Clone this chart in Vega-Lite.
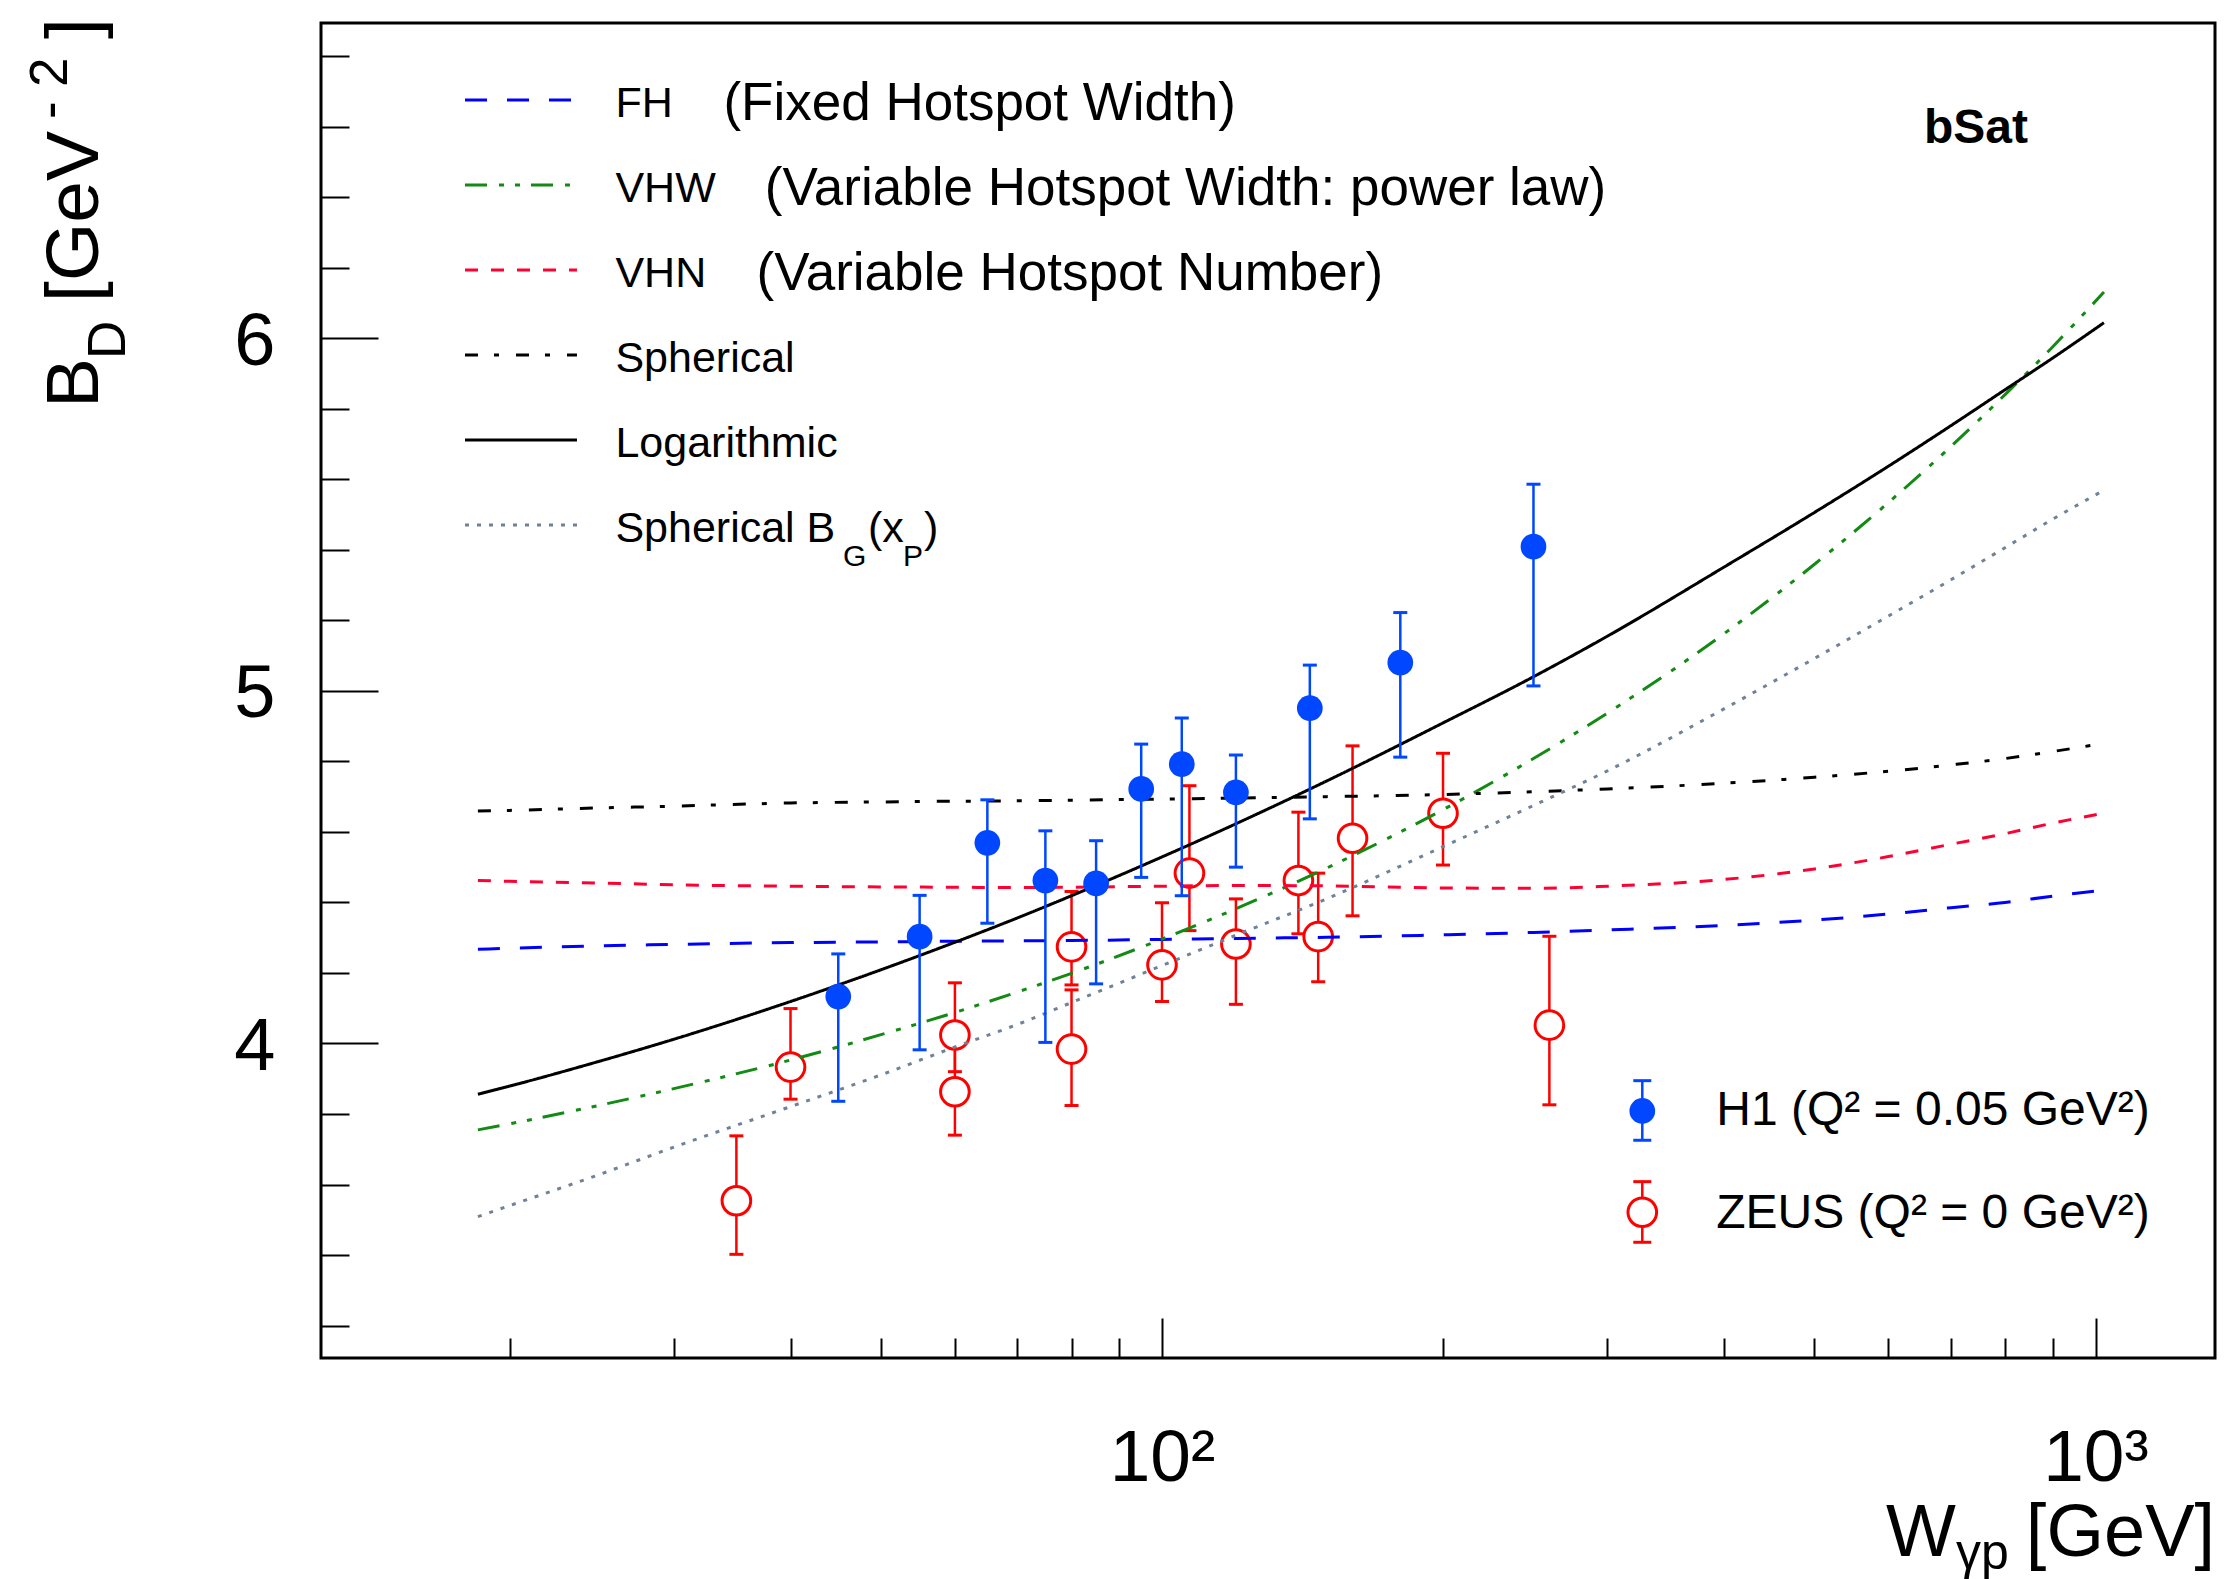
{
"$schema":"https://vega.github.io/schema/vega-lite/v6.json",
"width":1894,"height":1335,
"autosize":{"type":"none"},
"padding":{"left":321,"top":23,"right":14,"bottom":221},
"background":"white",
"config":{"view":{"stroke":"black","strokeWidth":3},"font":"Liberation Sans","text":{"font":"Liberation Sans"}},
"datasets":{
"h1":[
{"W":45,"B":4.133,"lo":3.836,"hi":4.254},
{"W":55,"B":4.303,"lo":3.982,"hi":4.420},
{"W":65,"B":4.569,"lo":4.341,"hi":4.691},
{"W":75,"B":4.462,"lo":4.003,"hi":4.603},
{"W":85,"B":4.454,"lo":4.169,"hi":4.575},
{"W":95,"B":4.722,"lo":4.471,"hi":4.849},
{"W":105,"B":4.792,"lo":4.419,"hi":4.923},
{"W":120,"B":4.712,"lo":4.500,"hi":4.818},
{"W":144,"B":4.951,"lo":4.637,"hi":5.073},
{"W":180,"B":5.080,"lo":4.812,"hi":5.222},
{"W":250,"B":5.409,"lo":5.014,"hi":5.586}],
"zeus":[
{"W":35,"B":3.554,"lo":3.402,"hi":3.738},
{"W":40,"B":3.933,"lo":3.842,"hi":4.099},
{"W":60,"B":4.024,"lo":3.920,"hi":4.172},
{"W":60,"B":3.863,"lo":3.740,"hi":4.060},
{"W":80,"B":4.274,"lo":4.166,"hi":4.431},
{"W":80,"B":3.984,"lo":3.824,"hi":4.152},
{"W":100,"B":4.223,"lo":4.119,"hi":4.399},
{"W":107,"B":4.483,"lo":4.320,"hi":4.731},
{"W":120,"B":4.282,"lo":4.111,"hi":4.410},
{"W":140,"B":4.462,"lo":4.311,"hi":4.656},
{"W":147,"B":4.303,"lo":4.175,"hi":4.483},
{"W":160,"B":4.582,"lo":4.362,"hi":4.844},
{"W":200,"B":4.653,"lo":4.506,"hi":4.823},
{"W":260,"B":4.052,"lo":3.826,"hi":4.304}],
"curves":[
{"model":"FH","W":18.5,"B":4.267},{"model":"FH","W":20,"B":4.270},{"model":"FH","W":25,"B":4.277},{"model":"FH","W":30,"B":4.281},{"model":"FH","W":40,"B":4.286},{"model":"FH","W":50,"B":4.288},{"model":"FH","W":60,"B":4.290},{"model":"FH","W":70,"B":4.291},{"model":"FH","W":80,"B":4.292},{"model":"FH","W":100,"B":4.295},{"model":"FH","W":120,"B":4.298},{"model":"FH","W":150,"B":4.301},{"model":"FH","W":200,"B":4.308},{"model":"FH","W":250,"B":4.315},{"model":"FH","W":300,"B":4.322},{"model":"FH","W":400,"B":4.335},{"model":"FH","W":500,"B":4.350},{"model":"FH","W":600,"B":4.367},{"model":"FH","W":700,"B":4.385},{"model":"FH","W":800,"B":4.400},{"model":"FH","W":900,"B":4.418},{"model":"FH","W":1021,"B":4.435},
{"model":"VHW","W":18.5,"B":3.755},{"model":"VHW","W":20,"B":3.772},{"model":"VHW","W":25,"B":3.825},{"model":"VHW","W":30,"B":3.872},{"model":"VHW","W":40,"B":3.953},{"model":"VHW","W":50,"B":4.025},{"model":"VHW","W":60,"B":4.088},{"model":"VHW","W":70,"B":4.146},{"model":"VHW","W":80,"B":4.199},{"model":"VHW","W":100,"B":4.296},{"model":"VHW","W":120,"B":4.382},{"model":"VHW","W":150,"B":4.497},{"model":"VHW","W":200,"B":4.663},{"model":"VHW","W":250,"B":4.808},{"model":"VHW","W":300,"B":4.937},{"model":"VHW","W":400,"B":5.162},{"model":"VHW","W":500,"B":5.359},{"model":"VHW","W":600,"B":5.534},{"model":"VHW","W":700,"B":5.693},{"model":"VHW","W":800,"B":5.840},{"model":"VHW","W":900,"B":5.976},{"model":"VHW","W":1021,"B":6.131},
{"model":"VHN","W":18.5,"B":4.462},{"model":"VHN","W":20,"B":4.460},{"model":"VHN","W":25,"B":4.455},{"model":"VHN","W":30,"B":4.450},{"model":"VHN","W":40,"B":4.446},{"model":"VHN","W":50,"B":4.444},{"model":"VHN","W":60,"B":4.443},{"model":"VHN","W":70,"B":4.442},{"model":"VHN","W":80,"B":4.443},{"model":"VHN","W":100,"B":4.446},{"model":"VHN","W":120,"B":4.448},{"model":"VHN","W":150,"B":4.447},{"model":"VHN","W":200,"B":4.441},{"model":"VHN","W":250,"B":4.440},{"model":"VHN","W":300,"B":4.446},{"model":"VHN","W":400,"B":4.465},{"model":"VHN","W":500,"B":4.495},{"model":"VHN","W":600,"B":4.530},{"model":"VHN","W":700,"B":4.565},{"model":"VHN","W":800,"B":4.595},{"model":"VHN","W":900,"B":4.625},{"model":"VHN","W":1021,"B":4.653},
{"model":"Spherical","W":18.5,"B":4.659},{"model":"Spherical","W":20,"B":4.661},{"model":"Spherical","W":25,"B":4.668},{"model":"Spherical","W":30,"B":4.673},{"model":"Spherical","W":40,"B":4.682},{"model":"Spherical","W":50,"B":4.685},{"model":"Spherical","W":60,"B":4.687},{"model":"Spherical","W":70,"B":4.688},{"model":"Spherical","W":80,"B":4.690},{"model":"Spherical","W":100,"B":4.693},{"model":"Spherical","W":120,"B":4.696},{"model":"Spherical","W":150,"B":4.700},{"model":"Spherical","W":200,"B":4.706},{"model":"Spherical","W":250,"B":4.714},{"model":"Spherical","W":300,"B":4.722},{"model":"Spherical","W":400,"B":4.738},{"model":"Spherical","W":500,"B":4.755},{"model":"Spherical","W":600,"B":4.772},{"model":"Spherical","W":700,"B":4.790},{"model":"Spherical","W":800,"B":4.808},{"model":"Spherical","W":900,"B":4.828},{"model":"Spherical","W":1021,"B":4.851},
{"model":"Logarithmic","W":18.5,"B":3.856},{"model":"Logarithmic","W":20,"B":3.879},{"model":"Logarithmic","W":25,"B":3.950},{"model":"Logarithmic","W":30,"B":4.012},{"model":"Logarithmic","W":40,"B":4.119},{"model":"Logarithmic","W":50,"B":4.209},{"model":"Logarithmic","W":60,"B":4.287},{"model":"Logarithmic","W":70,"B":4.356},{"model":"Logarithmic","W":80,"B":4.419},{"model":"Logarithmic","W":100,"B":4.529},{"model":"Logarithmic","W":120,"B":4.623},{"model":"Logarithmic","W":150,"B":4.744},{"model":"Logarithmic","W":200,"B":4.909},{"model":"Logarithmic","W":250,"B":5.040},{"model":"Logarithmic","W":300,"B":5.155},{"model":"Logarithmic","W":400,"B":5.351},{"model":"Logarithmic","W":500,"B":5.506},{"model":"Logarithmic","W":600,"B":5.637},{"model":"Logarithmic","W":700,"B":5.752},{"model":"Logarithmic","W":800,"B":5.854},{"model":"Logarithmic","W":900,"B":5.944},{"model":"Logarithmic","W":1021,"B":6.044},
{"model":"SphericalBG","W":18.5,"B":3.509},{"model":"SphericalBG","W":20,"B":3.540},{"model":"SphericalBG","W":25,"B":3.629},{"model":"SphericalBG","W":30,"B":3.706},{"model":"SphericalBG","W":40,"B":3.821},{"model":"SphericalBG","W":50,"B":3.911},{"model":"SphericalBG","W":60,"B":3.990},{"model":"SphericalBG","W":70,"B":4.054},{"model":"SphericalBG","W":80,"B":4.116},{"model":"SphericalBG","W":100,"B":4.221},{"model":"SphericalBG","W":120,"B":4.307},{"model":"SphericalBG","W":150,"B":4.410},{"model":"SphericalBG","W":200,"B":4.558},{"model":"SphericalBG","W":250,"B":4.675},{"model":"SphericalBG","W":300,"B":4.773},{"model":"SphericalBG","W":400,"B":4.949},{"model":"SphericalBG","W":500,"B":5.092},{"model":"SphericalBG","W":600,"B":5.212},{"model":"SphericalBG","W":700,"B":5.315},{"model":"SphericalBG","W":800,"B":5.406},{"model":"SphericalBG","W":900,"B":5.487},{"model":"SphericalBG","W":1021,"B":5.569}
]},
"layer":[
{"data":{"name":"zeus"},"mark":{"type":"rule","color":"#ff0000","strokeWidth":2.5},
 "encoding":{"x":{"field":"W","type":"quantitative"},"y":{"field":"lo","type":"quantitative"},"y2":{"field":"hi"}}},
{"data":{"name":"zeus"},"mark":{"type":"tick","orient":"horizontal","size":14,"thickness":3,"color":"#ff0000","opacity":1},
 "encoding":{"x":{"field":"W","type":"quantitative"},"y":{"field":"lo","type":"quantitative"}}},
{"data":{"name":"zeus"},"mark":{"type":"tick","orient":"horizontal","size":14,"thickness":3,"color":"#ff0000","opacity":1},
 "encoding":{"x":{"field":"W","type":"quantitative"},"y":{"field":"hi","type":"quantitative"}}},
{"data":{"name":"zeus"},"mark":{"type":"point","shape":"circle","filled":true,"fill":"white","stroke":"#ff0000","strokeWidth":3,"size":820,"opacity":1},
 "encoding":{"x":{"field":"W","type":"quantitative"},"y":{"field":"B","type":"quantitative"}}},
{"data":{"name":"curves"},"mark":{"type":"line","strokeWidth":3,"interpolate":"monotone"},
 "encoding":{
  "x":{"field":"W","type":"quantitative","scale":{"type":"log","domain":[12.563,1342.8],"nice":false},
   "axis":{"orient":"bottom","title":null,"domain":false,"grid":false,
    "values":[20,30,40,50,60,70,80,90,100,200,300,400,500,600,700,800,900,1000],
    "labelExpr":"datum.value == 100 ? '10\u00b2' : (datum.value == 1000 ? '10\u00b3' : '')",
    "tickSize":{"condition":{"test":"datum.value == 100 || datum.value == 1000","value":-40},"value":-20},
    "tickColor":"black","tickWidth":2,"labelFont":"Liberation Sans","labelFontSize":73,"labelColor":"black",
    "labelBaseline":"top","labelAlign":"center","labelPadding":104,"labelOverlap":false,"labelFlush":false}},
  "y":{"field":"B","type":"quantitative","scale":{"domain":[3.108,6.894],"nice":false,"zero":false},
   "axis":{"orient":"left","title":null,"domain":false,"grid":false,
    "values":[3.2,3.4,3.6,3.8,4,4.2,4.4,4.6,4.8,5,5.2,5.4,5.6,5.8,6,6.2,6.4,6.6,6.8],
    "labelExpr":"(datum.value == 4 || datum.value == 5 || datum.value == 6) ? format(datum.value, 'd') : ''",
    "tickSize":{"condition":{"test":"datum.value == 4 || datum.value == 5 || datum.value == 6","value":-57},"value":-28},
    "tickColor":"black","tickWidth":2,"labelFont":"Liberation Sans","labelFontSize":74,"labelColor":"black",
    "labelBaseline":"middle","labelAlign":"right","labelPadding":103,"labelOffset":4,"labelOverlap":false,"labelFlush":false}},
  "color":{"field":"model","type":"nominal","legend":null,
   "scale":{"domain":["FH","VHW","VHN","Spherical","Logarithmic","SphericalBG"],"range":["#0000ff","#138a13","#ff0033","#000000","#000000","#6f8297"]}},
  "strokeDash":{"field":"model","type":"nominal","legend":null,
   "scale":{"domain":["FH","VHW","VHN","Spherical","Logarithmic","SphericalBG"],"range":[[22,20],[22,12,5,11,5,11],[13,13],[13,16,5,17],[1,0],[4,8]]}}}},
{"data":{"name":"h1"},"mark":{"type":"rule","color":"#0047ff","strokeWidth":2.5},
 "encoding":{"x":{"field":"W","type":"quantitative"},"y":{"field":"lo","type":"quantitative"},"y2":{"field":"hi"}}},
{"data":{"name":"h1"},"mark":{"type":"tick","orient":"horizontal","size":14,"thickness":3,"color":"#0047ff","opacity":1},
 "encoding":{"x":{"field":"W","type":"quantitative"},"y":{"field":"lo","type":"quantitative"}}},
{"data":{"name":"h1"},"mark":{"type":"tick","orient":"horizontal","size":14,"thickness":3,"color":"#0047ff","opacity":1},
 "encoding":{"x":{"field":"W","type":"quantitative"},"y":{"field":"hi","type":"quantitative"}}},
{"data":{"name":"h1"},"mark":{"type":"point","shape":"circle","filled":true,"color":"#0047ff","size":660,"opacity":1},
 "encoding":{"x":{"field":"W","type":"quantitative"},"y":{"field":"B","type":"quantitative"}}},

{"data":{"values":[{}]},"mark":{"type":"rule","strokeWidth":3},"encoding":{"x":{"datum":17.92,"type":"quantitative"},"x2":{"datum":23.62},"y":{"datum":6.6758,"type":"quantitative"},"color":{"datum":"FH","type":"nominal","legend":null},"strokeDash":{"datum":"FH","type":"nominal","legend":null}}},
{"data":{"values":[{}]},"mark":{"type":"rule","strokeWidth":3},"encoding":{"x":{"datum":17.92,"type":"quantitative"},"x2":{"datum":23.62},"y":{"datum":6.4348,"type":"quantitative"},"color":{"datum":"VHW","type":"nominal","legend":null},"strokeDash":{"datum":"VHW","type":"nominal","legend":null}}},
{"data":{"values":[{}]},"mark":{"type":"rule","strokeWidth":3},"encoding":{"x":{"datum":17.92,"type":"quantitative"},"x2":{"datum":23.62},"y":{"datum":6.1937,"type":"quantitative"},"color":{"datum":"VHN","type":"nominal","legend":null},"strokeDash":{"datum":"VHN","type":"nominal","legend":null}}},
{"data":{"values":[{}]},"mark":{"type":"rule","strokeWidth":3},"encoding":{"x":{"datum":17.92,"type":"quantitative"},"x2":{"datum":23.62},"y":{"datum":5.9526,"type":"quantitative"},"color":{"datum":"Spherical","type":"nominal","legend":null},"strokeDash":{"datum":"Spherical","type":"nominal","legend":null}}},
{"data":{"values":[{}]},"mark":{"type":"rule","strokeWidth":3},"encoding":{"x":{"datum":17.92,"type":"quantitative"},"x2":{"datum":23.62},"y":{"datum":5.7116,"type":"quantitative"},"color":{"datum":"Logarithmic","type":"nominal","legend":null},"strokeDash":{"datum":"Logarithmic","type":"nominal","legend":null}}},
{"data":{"values":[{}]},"mark":{"type":"rule","strokeWidth":3},"encoding":{"x":{"datum":17.92,"type":"quantitative"},"x2":{"datum":23.62},"y":{"datum":5.4705,"type":"quantitative"},"color":{"datum":"SphericalBG","type":"nominal","legend":null},"strokeDash":{"datum":"SphericalBG","type":"nominal","legend":null}}},

{"data":{"values":[{}]},"mark":{"type":"text","text":"FH","fontSize":43,"align":"left","baseline":"alphabetic","color":"black"},"encoding":{"x":{"datum":25.97,"type":"quantitative"},"y":{"datum":6.6285,"type":"quantitative"}}},
{"data":{"values":[{}]},"mark":{"type":"text","text":"(Fixed Hotspot Width)","fontSize":53,"align":"left","baseline":"alphabetic","color":"black"},"encoding":{"x":{"datum":33.90,"type":"quantitative"},"y":{"datum":6.6191,"type":"quantitative"}}},
{"data":{"values":[{}]},"mark":{"type":"text","text":"VHW","fontSize":43,"align":"left","baseline":"alphabetic","color":"black"},"encoding":{"x":{"datum":25.97,"type":"quantitative"},"y":{"datum":6.3874,"type":"quantitative"}}},
{"data":{"values":[{}]},"mark":{"type":"text","text":"(Variable Hotspot Width: power law)","fontSize":53,"align":"left","baseline":"alphabetic","color":"black"},"encoding":{"x":{"datum":37.54,"type":"quantitative"},"y":{"datum":6.3780,"type":"quantitative"}}},
{"data":{"values":[{}]},"mark":{"type":"text","text":"VHN","fontSize":43,"align":"left","baseline":"alphabetic","color":"black"},"encoding":{"x":{"datum":25.97,"type":"quantitative"},"y":{"datum":6.1463,"type":"quantitative"}}},
{"data":{"values":[{}]},"mark":{"type":"text","text":"(Variable Hotspot Number)","fontSize":53,"align":"left","baseline":"alphabetic","color":"black"},"encoding":{"x":{"datum":36.79,"type":"quantitative"},"y":{"datum":6.1370,"type":"quantitative"}}},
{"data":{"values":[{}]},"mark":{"type":"text","text":"Spherical","fontSize":43,"align":"left","baseline":"alphabetic","color":"black"},"encoding":{"x":{"datum":25.97,"type":"quantitative"},"y":{"datum":5.9053,"type":"quantitative"}}},
{"data":{"values":[{}]},"mark":{"type":"text","text":"Logarithmic","fontSize":43,"align":"left","baseline":"alphabetic","color":"black"},"encoding":{"x":{"datum":25.97,"type":"quantitative"},"y":{"datum":5.6642,"type":"quantitative"}}},
{"data":{"values":[{}]},"mark":{"type":"text","text":"Spherical B","fontSize":43,"align":"left","baseline":"alphabetic","color":"black"},"encoding":{"x":{"datum":25.97,"type":"quantitative"},"y":{"datum":5.4232,"type":"quantitative"}}},
{"data":{"values":[{}]},"mark":{"type":"text","text":"G","fontSize":30,"align":"left","baseline":"alphabetic","color":"black"},"encoding":{"x":{"datum":45.53,"type":"quantitative"},"y":{"datum":5.354,"type":"quantitative"}}},
{"data":{"values":[{}]},"mark":{"type":"text","text":"(x","fontSize":43,"align":"left","baseline":"alphabetic","color":"black"},"encoding":{"x":{"datum":48.43,"type":"quantitative"},"y":{"datum":5.4232,"type":"quantitative"}}},
{"data":{"values":[{}]},"mark":{"type":"text","text":"P","fontSize":30,"align":"left","baseline":"alphabetic","color":"black"},"encoding":{"x":{"datum":52.79,"type":"quantitative"},"y":{"datum":5.354,"type":"quantitative"}}},
{"data":{"values":[{}]},"mark":{"type":"text","text":")","fontSize":43,"align":"left","baseline":"alphabetic","color":"black"},"encoding":{"x":{"datum":55.59,"type":"quantitative"},"y":{"datum":5.4232,"type":"quantitative"}}},

{"data":{"values":[{}]},"mark":{"type":"text","text":"bSat","fontSize":48,"fontWeight":"bold","align":"center","baseline":"alphabetic","color":"black"},"encoding":{"x":{"datum":744.7,"type":"quantitative"},"y":{"datum":6.553,"type":"quantitative"}}},

{"data":{"values":[{}]},"mark":{"type":"rule","color":"#0047ff","strokeWidth":2.5},"encoding":{"x":{"datum":326.97,"type":"quantitative"},"y":{"datum":3.7255,"type":"quantitative"},"y2":{"datum":3.8945}}},
{"data":{"values":[{}]},"mark":{"type":"tick","orient":"horizontal","size":18,"thickness":3,"color":"#0047ff","opacity":1},"encoding":{"x":{"datum":326.97,"type":"quantitative"},"y":{"datum":3.7255,"type":"quantitative"}}},
{"data":{"values":[{}]},"mark":{"type":"tick","orient":"horizontal","size":18,"thickness":3,"color":"#0047ff","opacity":1},"encoding":{"x":{"datum":326.97,"type":"quantitative"},"y":{"datum":3.8945,"type":"quantitative"}}},
{"data":{"values":[{}]},"mark":{"type":"point","shape":"circle","filled":true,"color":"#0047ff","size":660,"opacity":1},"encoding":{"x":{"datum":326.97,"type":"quantitative"},"y":{"datum":3.8086,"type":"quantitative"}}},
{"data":{"values":[{}]},"mark":{"type":"rule","color":"#ff0000","strokeWidth":2.5},"encoding":{"x":{"datum":326.97,"type":"quantitative"},"y":{"datum":3.4362,"type":"quantitative"},"y2":{"datum":3.6081}}},
{"data":{"values":[{}]},"mark":{"type":"tick","orient":"horizontal","size":18,"thickness":3,"color":"#ff0000","opacity":1},"encoding":{"x":{"datum":326.97,"type":"quantitative"},"y":{"datum":3.4362,"type":"quantitative"}}},
{"data":{"values":[{}]},"mark":{"type":"tick","orient":"horizontal","size":18,"thickness":3,"color":"#ff0000","opacity":1},"encoding":{"x":{"datum":326.97,"type":"quantitative"},"y":{"datum":3.6081,"type":"quantitative"}}},
{"data":{"values":[{}]},"mark":{"type":"point","shape":"circle","filled":true,"fill":"white","stroke":"#ff0000","strokeWidth":3,"size":820,"opacity":1},"encoding":{"x":{"datum":326.97,"type":"quantitative"},"y":{"datum":3.5213,"type":"quantitative"}}},
{"data":{"values":[{}]},"mark":{"type":"text","text":"H1 (Q\u00b2 = 0.05 GeV\u00b2)","fontSize":48,"align":"left","baseline":"alphabetic","color":"black"},"encoding":{"x":{"datum":392.4,"type":"quantitative"},"y":{"datum":3.7689,"type":"quantitative"}}},
{"data":{"values":[{}]},"mark":{"type":"text","text":"ZEUS (Q\u00b2 = 0 GeV\u00b2)","fontSize":48,"align":"left","baseline":"alphabetic","color":"black"},"encoding":{"x":{"datum":392.4,"type":"quantitative"},"y":{"datum":3.4759,"type":"quantitative"}}},

{"data":{"values":[{}]},"mark":{"type":"text","text":"B","fontSize":75,"angle":270,"align":"left","baseline":"alphabetic","color":"black"},"encoding":{"x":{"datum":7.248,"type":"quantitative"},"y":{"datum":5.8023,"type":"quantitative"}}},
{"data":{"values":[{}]},"mark":{"type":"text","text":"D","fontSize":53,"angle":270,"align":"left","baseline":"alphabetic","color":"black"},"encoding":{"x":{"datum":7.746,"type":"quantitative"},"y":{"datum":5.9413,"type":"quantitative"}}},
{"data":{"values":[{}]},"mark":{"type":"text","text":"[GeV","fontSize":75,"angle":270,"align":"left","baseline":"alphabetic","color":"black"},"encoding":{"x":{"datum":7.248,"type":"quantitative"},"y":{"datum":6.1029,"type":"quantitative"}}},
{"data":{"values":[{}]},"mark":{"type":"text","text":"-","fontSize":53,"angle":270,"align":"left","baseline":"alphabetic","color":"black"},"encoding":{"x":{"datum":6.714,"type":"quantitative"},"y":{"datum":6.622,"type":"quantitative"}}},
{"data":{"values":[{}]},"mark":{"type":"text","text":"2","fontSize":53,"angle":270,"align":"left","baseline":"alphabetic","color":"black"},"encoding":{"x":{"datum":6.714,"type":"quantitative"},"y":{"datum":6.7127,"type":"quantitative"}}},
{"data":{"values":[{}]},"mark":{"type":"text","text":"]","fontSize":75,"angle":270,"align":"left","baseline":"alphabetic","color":"black"},"encoding":{"x":{"datum":7.248,"type":"quantitative"},"y":{"datum":6.8488,"type":"quantitative"}}},

{"data":{"values":[{}]},"mark":{"type":"text","text":"W","fontSize":74,"align":"left","baseline":"alphabetic","color":"black"},"encoding":{"x":{"datum":596.5,"type":"quantitative"},"y":{"datum":2.546,"type":"quantitative"}}},
{"data":{"values":[{}]},"mark":{"type":"text","text":"\u03b3p","fontSize":50,"align":"left","baseline":"alphabetic","color":"black"},"encoding":{"x":{"datum":708.8,"type":"quantitative"},"y":{"datum":2.5082,"type":"quantitative"}}},
{"data":{"values":[{}]},"mark":{"type":"text","text":"[GeV]","fontSize":74,"align":"right","baseline":"alphabetic","color":"black"},"encoding":{"x":{"datum":1343,"type":"quantitative"},"y":{"datum":2.546,"type":"quantitative"}}}
]
}
